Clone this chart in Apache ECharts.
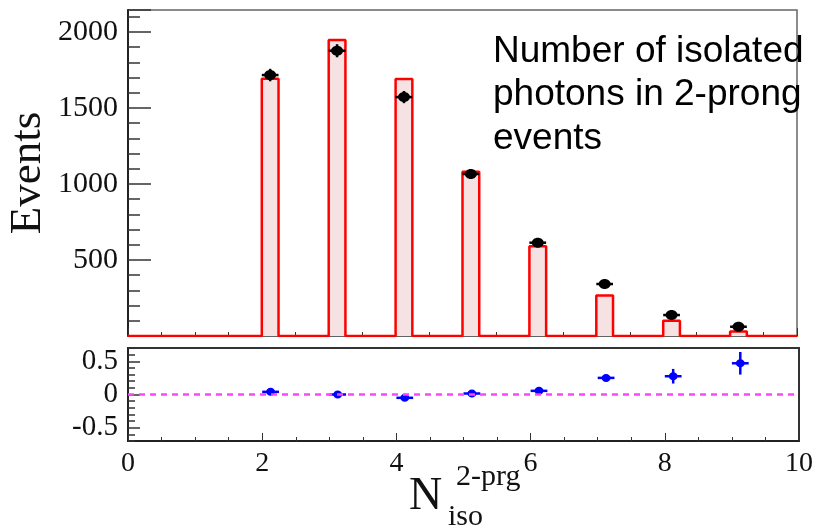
<!DOCTYPE html>
<html>
<head>
<meta charset="utf-8">
<script src="https://cdn.jsdelivr.net/npm/echarts@6/dist/echarts.min.js"></script>
<style>
  html, body { margin: 0; padding: 0; background: #fff; }
  #main { width: 817px; height: 527px; }
</style>
</head>
<body>
<div id="main"></div>
<script>
// bin low edges (N_iso), bin width
const binLow = [2, 3, 4, 5, 6, 7, 8, 9]
const binWidth = 0.25
// MC histogram (red)
const mcCounts = [1693, 1947, 1691, 1081, 590, 266, 101, 30]
// data points (black)
const dataCounts = [1717, 1877, 1572, 1066, 614, 342, 138, 61]
const dataErr = [41, 43, 40, 33, 25, 18, 12, 8]
// ratio panel (blue)
const ratio = [0.04, 0.0, -0.05, 0.015, 0.055, 0.25, 0.275, 0.47]
const ratioErr = [0.02, 0.02, 0.02, 0.03, 0.04, 0.05, 0.11, 0.17]

const xTicks = [0, 2, 4, 6, 8, 10]
const ratioTicks = [-0.5, 0, 0.5]

const serif = 'Liberation Serif'

// histogram outline built from the bins
const outline = [[0, 0]]
binLow.forEach((lo, i) => {
  outline.push([lo, 0], [lo, mcCounts[i]], [lo + binWidth, mcCounts[i]], [lo + binWidth, 0])
})
outline.push([10, 0])

const chart = echarts.init(document.getElementById('main'))

function errPoint (color, rx, ry) {
  return function (params, api) {
    const lo = api.value(0)
    const v = api.value(1)
    const e = api.value(2)
    const c = api.coord([lo + binWidth / 2, v])
    const l = api.coord([lo, v])
    const r = api.coord([lo + binWidth, v])
    const t = api.coord([lo + binWidth / 2, v + e])
    const b = api.coord([lo + binWidth / 2, v - e])
    const st = { stroke: color, lineWidth: 2.5 }
    return {
      type: 'group',
      children: [
        { type: 'line', shape: { x1: l[0], y1: c[1], x2: r[0], y2: c[1] }, style: st },
        { type: 'line', shape: { x1: c[0], y1: t[1], x2: c[0], y2: b[1] }, style: st },
        { type: 'ellipse', shape: { cx: c[0], cy: c[1], rx: rx, ry: ry }, style: { fill: color } }
      ]
    }
  }
}

chart.setOption({
  animation: false,
  grid: [
    { left: 128, right: 20, top: 10, height: 326, show: true, borderColor: '#666', borderWidth: 1.5, backgroundColor: '#fff' },
    { left: 128, right: 18, top: 348, height: 93, show: true, borderColor: '#333', borderWidth: 2, backgroundColor: '#fff' }
  ],
  xAxis: [
    {
      type: 'value', gridIndex: 0, min: 0, max: 10, interval: 2,
      axisLine: { show: true, onZero: false, lineStyle: { color: '#555', width: 1.5 } },
      axisTick: { show: true, inside: true, length: 8, lineStyle: { color: '#333' } },
      minorTick: { show: true, splitNumber: 4, length: 4, lineStyle: { color: '#333' } },
      axisLabel: { show: false },
      splitLine: { show: false }
    },
    {
      type: 'value', gridIndex: 1, min: 0, max: 10, interval: 2,
      axisLine: { show: true, onZero: false, lineStyle: { color: '#222', width: 2 } },
      axisTick: { show: true, inside: true, length: 8, lineStyle: { color: '#333' } },
      minorTick: { show: true, splitNumber: 4, length: 4, lineStyle: { color: '#333' } },
      axisLabel: {
        show: true, fontFamily: serif, fontSize: 28, color: '#111', margin: 9,
        customValues: xTicks
      },
      splitLine: { show: false }
    }
  ],
  yAxis: [
    {
      type: 'value', gridIndex: 0, min: 0, max: 2145, interval: 500,
      axisLine: { show: true, lineStyle: { color: '#222', width: 2 } },
      axisTick: { show: true, inside: true, length: 23, lineStyle: { color: '#333', width: 1.5 } },
      minorTick: { show: true, splitNumber: 5, length: 12, lineStyle: { color: '#333', width: 1.5 } },
      axisLabel: {
        fontFamily: serif, fontSize: 30, color: '#111', margin: 10, showMaxLabel: false,
        formatter: v => (v === 0 ? '' : String(v))
      },
      splitLine: { show: false }
    },
    {
      type: 'value', gridIndex: 1, position: 'left', min: -0.7, max: 0.7,
      axisLine: { show: true, lineStyle: { color: '#222', width: 2 } },
      axisTick: { show: true, inside: true, length: 12, customValues: ratioTicks, lineStyle: { color: '#333', width: 1.5 } },
      axisLabel: {
        fontFamily: serif, fontSize: 29, color: '#111', margin: 10,
        customValues: ratioTicks,
        formatter: v => String(Math.round(v * 10) / 10)
      },
      splitLine: { show: false }
    },
    {
      type: 'value', gridIndex: 1, position: 'left', min: -0.7, max: 0.7, interval: 0.1,
      axisLine: { show: false },
      axisTick: { show: true, inside: true, length: 7, lineStyle: { color: '#333', width: 1.5 } },
      axisLabel: { show: false },
      splitLine: { show: false }
    }
  ],
  graphic: [
    {
      type: 'text', x: 28, y: 173, rotation: Math.PI / 2,
      style: { text: 'Events', font: '45px "Liberation Serif"', fill: '#111', align: 'center', verticalAlign: 'middle' }
    },
    {
      type: 'text', x: 493, y: 30,
      style: {
        text: 'Number of isolated\nphotons in 2-prong\nevents',
        font: '37px "Liberation Sans"', fill: '#000', lineHeight: 43.5, verticalAlign: 'top'
      }
    },
    {
      type: 'text', x: 409, y: 497,
      style: { text: 'N', font: '46px "Liberation Serif"', fill: '#111', verticalAlign: 'middle' }
    },
    {
      type: 'text', x: 456, y: 477,
      style: { text: '2-prg', font: '30px "Liberation Serif"', fill: '#111', verticalAlign: 'middle' }
    },
    {
      type: 'text', x: 448, y: 517,
      style: { text: 'iso', font: '30px "Liberation Serif"', fill: '#111', verticalAlign: 'middle' }
    }
  ],
  series: [
    {
      name: 'MC fill',
      type: 'custom',
      xAxisIndex: 0, yAxisIndex: 0,
      data: binLow.map((lo, i) => [lo, mcCounts[i]]),
      renderItem (params, api) {
        const lo = api.value(0)
        const p0 = api.coord([lo, api.value(1)])
        const p1 = api.coord([lo + binWidth, 0])
        return {
          type: 'rect',
          shape: { x: p0[0], y: p0[1], width: p1[0] - p0[0], height: p1[1] - p0[1] },
          style: { fill: '#f6e2e2' }
        }
      },
      z: 2
    },
    {
      name: 'MC',
      type: 'line',
      xAxisIndex: 0, yAxisIndex: 0,
      data: outline,
      symbol: 'none',
      lineStyle: { color: '#ff0000', width: 2.5 },
      z: 3
    },
    {
      name: 'Data',
      type: 'custom',
      xAxisIndex: 0, yAxisIndex: 0,
      data: binLow.map((lo, i) => [lo, dataCounts[i], dataErr[i]]),
      renderItem: errPoint('#000', 6, 5),
      z: 4
    },
    {
      name: 'Ratio',
      type: 'custom',
      xAxisIndex: 1, yAxisIndex: 1,
      data: binLow.map((lo, i) => [lo, ratio[i], ratioErr[i]]),
      renderItem: errPoint('#0000ff', 4.5, 4),
      markLine: {
        silent: true,
        symbol: 'none',
        label: { show: false },
        lineStyle: { color: '#ff44ff', type: [6, 5], width: 2.5 },
        data: [{ yAxis: 0 }]
      },
      z: 4
    }
  ]
})
</script>
</body>
</html>
